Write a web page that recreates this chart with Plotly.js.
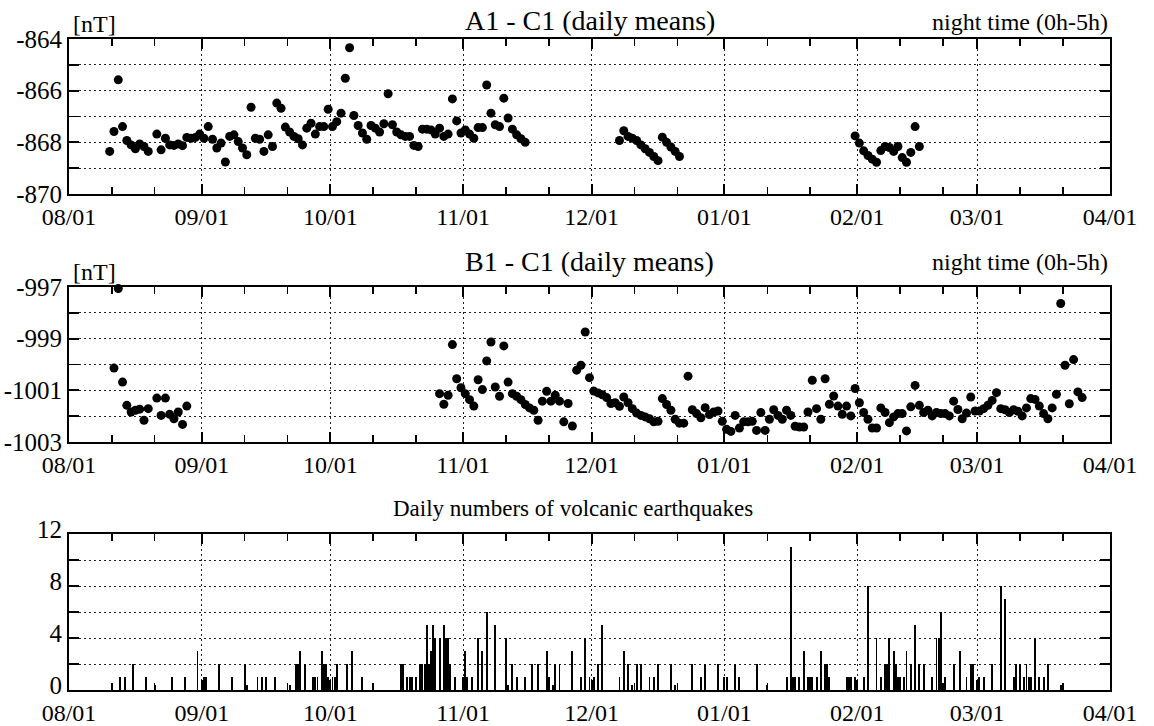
<!DOCTYPE html>
<html><head><meta charset="utf-8">
<script src="https://cdn.plot.ly/plotly-3.0.1.min.js"></script>
<style>html,body{margin:0;padding:0;background:#fff}#chart{width:1154px;height:726px}</style>
</head><body><div id="chart"></div>
<script>
// ---------- data ----------
const seriesStart = '1990-08-01';
const monthTicks = ['1990-08-01','1990-09-01','1990-10-01','1990-11-01','1990-12-01','1991-01-01','1991-02-01','1991-03-01','1991-04-01'];
const monthLabels = ['08/01','09/01','10/01','11/01','12/01','01/01','02/01','03/01','04/01'];
const minorTicks = ['1990-08-11','1990-08-21','1990-09-11','1990-09-21','1990-10-11','1990-10-21','1990-11-11','1990-11-21','1990-12-11','1990-12-21','1991-01-11','1991-01-21','1991-02-11','1991-02-21','1991-03-11','1991-03-21'];

const a1Ticks = [-870, -868, -866, -864];
const a1TickLabels = ['-870', '-868', '-866', '-864'];
const b1Ticks = [-1003, -1001, -999, -997];
const b1TickLabels = ['-1003', '-1001', '-999', '-997'];
const eqTicks = [0, 4, 8, 12];
const eqTickLabels = ['0', '4', '8', '12'];

// A1 - C1 : day offsets from 08/01 and daily means [nT]
const a1Days = [9,10,11,12,13,14,15,16,17,18,
 20,21,22,23,24,25,26,27,28,29,30,31,32,33,34,35,36,37,38,39,40,41,42,43,44,45,46,47,48,49,50,51,52,53,54,55,56,57,58,59,60,61,62,63,64,65,66,67,68,69,70,71,72,73,74,75,76,77,78,79,80,81,82,83,84,85,86,87,88,89,90,91,92,93,94,95,96,97,98,99,100,101,102,103,104,105,106,
 128,129,130,131,132,133,134,135,136,137,138,139,140,141,142,
 183,184,185,186,187,188,189,190,191,192,193,194,195,196,197,198];
const a1Values = [-868.35,-867.58,-865.58,-867.39,-867.93,-868.1,-868.25,-868.06,-868.16,-868.35,
 -867.68,-868.29,-867.84,-868.1,-868.12,-868.06,-868.13,-867.81,-867.84,-867.81,-867.68,-867.84,-867.39,-867.88,-868.22,-868.03,-868.76,-867.77,-867.71,-867.97,-868.22,-868.48,-866.64,-867.84,-867.88,-868.35,-867.71,-868.16,-866.48,-866.68,-867.41,-867.6,-867.77,-867.86,-868.1,-867.45,-867.26,-867.68,-867.39,-867.39,-866.72,-867.39,-867.2,-866.87,-865.52,-864.34,-866.96,-867.35,-867.64,-867.88,-867.35,-867.45,-867.6,-867.28,-866.12,-867.32,-867.6,-867.71,-867.77,-867.77,-868.12,-868.16,-867.49,-867.49,-867.52,-867.68,-867.45,-867.77,-867.68,-866.32,-867.17,-867.64,-867.52,-867.68,-867.84,-867.43,-867.43,-865.78,-866.87,-867.32,-867.39,-866.29,-867.06,-867.49,-867.71,-867.86,-868.0,
 -867.93,-867.55,-867.77,-867.84,-867.93,-868.1,-868.25,-868.39,-868.55,-868.71,-867.8,-868.0,-868.18,-868.35,-868.55,
 -867.75,-868.03,-868.33,-868.51,-868.65,-868.77,-868.32,-868.16,-868.2,-868.35,-868.16,-868.59,-868.77,-868.39,-867.39,-868.16];

// B1 - C1 : day offsets from 08/01 and daily means [nT]
const b1Days = [10,11,12,13,14,15,16,17,18,
 20,21,22,23,24,25,26,27,
 86,87,88,89,90,91,92,93,94,95,96,97,98,99,100,101,102,103,104,105,106,107,108,109,110,111,112,113,114,115,116,117,118,119,120,121,122,123,124,125,126,127,128,129,130,131,132,133,134,135,136,137,138,139,140,141,142,143,144,145,146,147,148,149,150,151,152,153,154,155,156,157,158,159,160,161,162,163,164,165,
 166,167,168,169,170,171,172,173,174,175,176,177,178,179,180,181,182,183,184,185,186,187,188,189,190,191,192,193,194,195,196,197,198,199,200,201,202,203,204,205,206,207,208,209,210,211,212,213,214,215,216,217,218,219,220,221,222,223,224,225,226,227,228,229,230,231,232,233,234,235,236];
const b1Values = [-1000.14,-997.06,-1000.68,-1001.58,-1001.84,-1001.77,-1001.73,-1002.16,-1001.71,
 -1001.3,-1001.97,-1001.3,-1001.93,-1002.1,-1001.84,-1002.32,-1001.61,
 -1001.13,-1001.54,-1001.19,-999.23,-1000.55,-1000.9,-1001.13,-1001.36,-1001.61,-1000.59,-1000.97,-999.86,-999.13,-1000.87,-1001.23,-999.28,-1000.68,-1001.13,-1001.23,-1001.36,-1001.55,-1001.68,-1001.77,-1002.16,-1001.42,-1001.04,-1001.42,-1001.19,-1001.42,-1002.22,-1001.51,-1002.38,-1000.22,-1000.03,-998.74,-1000.51,-1001.03,-1001.1,-1001.17,-1001.28,-1001.51,-1001.48,-1001.62,-1001.26,-1001.48,-1001.71,-1001.88,-1001.97,-1002.03,-1002.1,-1002.22,-1002.2,-1001.32,-1001.55,-1001.77,-1002.12,-1002.27,-1002.27,-1000.45,-1001.75,-1001.9,-1002.06,-1001.67,-1001.94,-1001.84,-1001.8,-1002.2,-1002.51,-1002.59,-1001.97,-1002.46,-1002.22,-1002.22,-1002.2,-1002.55,-1001.86,-1002.55,-1002.12,-1001.75,-1001.97,
 -1002.12,-1001.77,-1001.97,-1002.39,-1002.42,-1002.42,-1001.84,-1000.61,-1001.71,-1002.12,-1000.55,-1001.54,-1001.22,-1001.61,-1001.93,-1001.61,-1001.99,-1000.93,-1001.48,-1001.86,-1002.12,-1002.46,-1002.46,-1001.68,-1001.86,-1002.25,-1002.03,-1001.9,-1001.9,-1002.57,-1001.64,-1000.81,-1001.58,-1001.86,-1001.77,-1001.99,-1001.86,-1001.9,-1001.9,-1001.99,-1001.42,-1001.74,-1002.1,-1001.88,-1001.26,-1001.8,-1001.8,-1001.71,-1001.58,-1001.39,-1001.09,-1001.71,-1001.75,-1001.86,-1001.75,-1001.81,-1001.99,-1001.68,-1001.32,-1001.35,-1001.61,-1001.9,-1002.1,-1001.68,-1001.15,-997.64,-1000.03,-1001.52,-999.81,-1001.06,-1001.28];

// Volcanic earthquakes : day offsets from 08/01 and counts
const eqDays = [10,12,13,15,18,20,24,27,30,31.5,32,35,38,41,41.5,44,45,46,48,51.5,53,53.5,54,55,57,57.5,58,59,59.5,60,60.5,61.5,62,62.5,65,66,68.5,71,
 77.5,78,79,79.5,80,81,82,82.5,83,83.5,84,84.5,85,85.5,86.5,87.5,88,88.5,89,90,92,92.5,93,94,95.5,96.5,97.5,99.5,102,102.5,103.5,104.5,106.5,108,109.5,111.5,112,113,113.5,114.5,117.5,119.5,120.5,121.5,122.5,123.5,124.5,
 128.5,129.5,130.5,131.5,132.5,133.5,135.5,136.5,137.5,140.5,141.5,145.5,147.5,148.5,151.5,153,153.5,155.5,156.5,160.5,163,
 167.5,168.5,169,169.5,170.5,171.5,172.5,173,173.5,174.5,175.5,176.5,177,177.5,181.5,182,182.5,183.5,185.5,186.5,188.5,189.5,190.5,191,191.5,192.5,193,193.5,194,195,195.5,196.5,197.5,198.5,199.5,201.5,202.5,203,203.5,204.5,206.5,208,209.5,210.5,211,212.5,213.5,215.5,217.5,218.5,220.5,221,222,223,223.5,224,224.5,225.5,226.5,227.5,228.5,231.5];
const eqCounts = [0.4,1,1,2,1,0.4,1,1,3,1,1,2,1,2,0.4,1,1,1,1,0.4,2,2,3,2,1,1,1,3,2,2,1,1,1,2,2,3,1,0.4,
 2,2,1,1,1,1,2,2,2,5,2,3,5,4,4,5,4,4,2,1,1,3,1,1,4,3,6,5,4,0.4,2,1,1,2,2,3,1,0.4,2,2,3,1,4,1,1,2,5,
 1,3,2,0.4,2,2,1,1,2,2,0.4,2,1,2,2,1,1,2,1,2,0.4,
 1,11,1,1,1,3,1,1,1,1,3,2,2,1,1,1,1,1,1,8,4,1,2,2,4,3,2,1,1,1,3,2,5,2,2,1,4,4,6,1,2,3,1,2,2,1,1,2,8,7,1,2,2,1,2,1,1,4,1,1,2,0.4];

// ---------- helpers ----------
const DAY = 86400000;
const t0 = Date.parse(seriesStart + 'T00:00:00Z');
function toDate(d, shift) {
  return new Date(t0 + (d + shift) * DAY).toISOString().slice(0, 16).replace('T', ' ');
}
const F = 'Liberation Serif, Times New Roman, serif';
const BLACK = '#000';
const GRID = '#222';
const DASH = '2px,3px';
const PLOT_TOP = 39, PLOT_BOTTOM = 690;
function py(p) { return (PLOT_BOTTOM - p) / (PLOT_BOTTOM - PLOT_TOP); }
function px(p) { return (p - 69) / (1110 - 69); }

function xAxis(anchor) {
  return {
    type: 'date', range: [monthTicks[0], monthTicks[monthTicks.length - 1]], anchor: anchor,
    tickmode: 'array', tickvals: monthTicks, ticktext: monthLabels,
    ticks: 'inside', ticklen: 10, tickwidth: 2, tickcolor: BLACK,
    mirror: 'allticks', showline: true, linewidth: 2, linecolor: BLACK,
    showgrid: true, gridcolor: GRID, gridwidth: 1, griddash: DASH, zeroline: false,
    tickfont: {family: F, size: 24, color: BLACK},
    minor: {tickmode: 'array', tickvals: minorTicks, ticks: 'inside', ticklen: 7, tickwidth: 1.5, tickcolor: BLACK, showgrid: false},
    fixedrange: true
  };
}
function yAxis(anchor, domain, range, major, labels, minor, shift) {
  return {
    anchor: anchor, domain: domain, range: range,
    tickmode: 'array', tickvals: major, ticktext: labels,
    ticks: 'inside', ticklen: 10, tickwidth: 2, tickcolor: BLACK,
    mirror: 'allticks', showline: true, linewidth: 2, linecolor: BLACK,
    showgrid: true, gridcolor: GRID, gridwidth: 1, griddash: DASH, zeroline: false,
    tickfont: {family: F, size: 25, color: BLACK}, ticklabelshift: shift || 0,
    minor: {tickmode: 'array', tickvals: minor, ticks: 'inside', ticklen: 10, tickwidth: 1.5, tickcolor: BLACK, showgrid: true, gridcolor: GRID, gridwidth: 1, griddash: DASH},
    fixedrange: true
  };
}

const traces = [
  {type: 'scatter', mode: 'markers', xaxis: 'x', yaxis: 'y',
   x: a1Days.map(d => toDate(d, 0.5)), y: a1Values,
   marker: {color: BLACK, size: 9}, cliponaxis: false, hoverinfo: 'x+y'},
  {type: 'scatter', mode: 'markers', xaxis: 'x2', yaxis: 'y2',
   x: b1Days.map(d => toDate(d, 0.5)), y: b1Values,
   marker: {color: BLACK, size: 9}, cliponaxis: false, hoverinfo: 'x+y'},
  {type: 'bar', xaxis: 'x3', yaxis: 'y3',
   x: eqDays.map(d => toDate(d, 0)), y: eqCounts,
   width: 0.45 * DAY, marker: {color: BLACK, line: {width: 0}}, hoverinfo: 'x+y'}
];

function ann(text, x, xanchor, ybottom, size) {
  return {text: text, xref: 'paper', yref: 'paper', x: x, y: py(ybottom), xanchor: xanchor, yanchor: 'bottom',
    showarrow: false, font: {family: F, size: size || 24, color: BLACK}, borderpad: 0};
}

const layout = {
  width: 1154, height: 726,
  margin: {l: 69, r: 44, t: PLOT_TOP, b: 726 - PLOT_BOTTOM, pad: 0},
  paper_bgcolor: '#fff', plot_bgcolor: '#fff',
  showlegend: false,
  bargap: 0,
  xaxis: xAxis('y'),
  xaxis2: xAxis('y2'),
  xaxis3: xAxis('y3'),
  yaxis: yAxis('x', [py(194), 1], [-870, -864], a1Ticks, a1TickLabels, [-869, -867, -865]),
  yaxis2: yAxis('x2', [py(442), py(287)], [-1003, -997], b1Ticks, b1TickLabels, [-1002, -1000, -998]),
  yaxis3: yAxis('x3', [0, py(534)], [0, 12], eqTicks, eqTickLabels, [2, 6, 10], -5),
  annotations: [
    ann('A1 - C1 (daily means)', 0.5, 'center', 37, 28),
    ann('[nT]', px(72), 'left', 38, 24),
    ann('night time (0h-5h)', px(1109), 'right', 36, 24),
    ann('B1 - C1 (daily means)', 0.5, 'center', 278, 28),
    ann('[nT]', px(72), 'left', 286, 24),
    ann('night time (0h-5h)', px(1109), 'right', 276, 24),
    ann('Daily numbers of volcanic earthquakes', px(573), 'center', 522, 23)
  ]
};

Plotly.newPlot('chart', traces, layout, {displayModeBar: false, staticPlot: true});
</script>
</body></html>
